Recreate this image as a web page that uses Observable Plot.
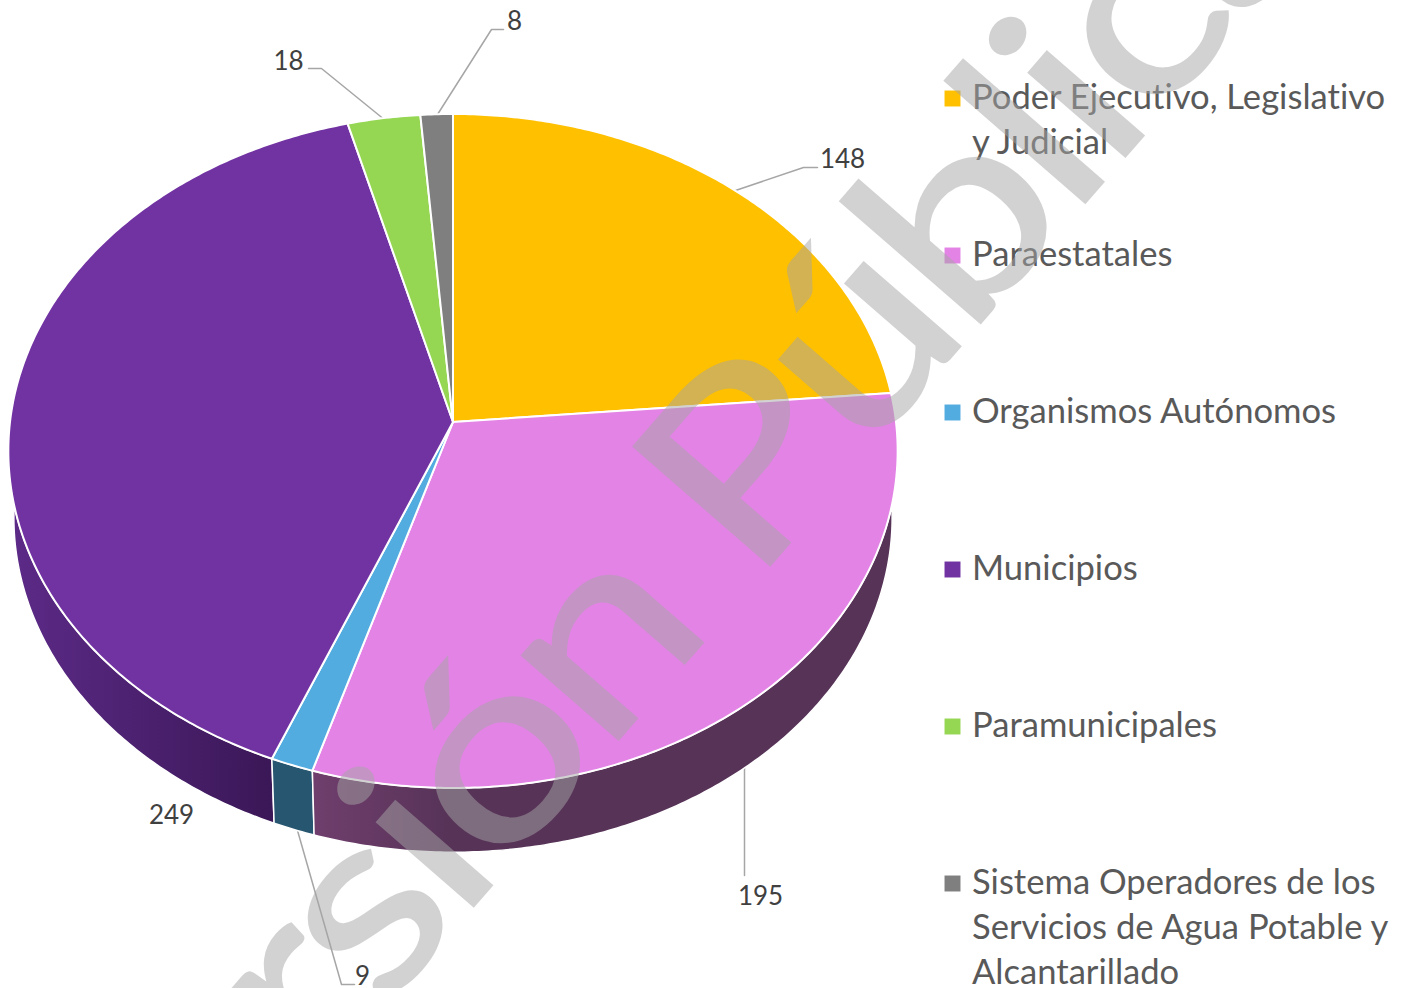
<!DOCTYPE html>
<html lang="es">
<head>
<meta charset="utf-8">
<script src="https://cdn.jsdelivr.net/npm/d3@7"></script>
<script src="https://cdn.jsdelivr.net/npm/@observablehq/plot@0.6"></script>
<style>
html,body{margin:0;padding:0;background:#fff;overflow:hidden}
svg text{font-variant-ligatures:none}
.wm text{letter-spacing:-9px}
</style>
</head>
<body>
<div id="chart"></div>
<script>
const categories = ["Poder Ejecutivo, Legislativo\ny Judicial","Paraestatales","Organismos Autónomos","Municipios","Paramunicipales","Sistema Operadores de los\nServicios de Agua Potable y\nAlcantarillado"];
const values = [148,195,9,249,18,8];
const colors = ["#FFC000","#E383E5","#52ACE0","#7132A2","#95D653","#7F7F7F"];
const legendY = [98,255,412,569,726,883];
const labelX = [842,760,362,171,288,514];
const labelY = [159,896,976,815,61,21];
const leaderX = [[735,803,817],[744,744],[297,341,354],[],[385,321,308],[437,491,503]];
const leaderY = [[190,167,167],[765,875],[830,984,984],[],[120,68,68],[114,29,29]];
const watermark = "Versión Pública";

const total = d3.sum(values);
let acc = 0;
const slices = values.map((v,i)=>{const a0=acc/total*2*Math.PI; acc+=v; return {name:categories[i],a0,a1:acc/total*2*Math.PI,i};});
const k = 0.086;
const top3d = {cx:453,cy:422,s:443,t:334.5};
const bot3d = {cx:453,cy:489,s:437.5,t:332};
const project = (f,a)=>{const X=Math.sin(a),Y=Math.cos(a),d=1+k*Y;return [f.cx+f.s*X/d,f.cy-f.t*Y/d];};
const arc = s=>{const n=Math.max(2,Math.ceil((s.a1-s.a0)/0.01));return d3.range(n+1).map(j=>s.a0+(s.a1-s.a0)*j/n);};
const sector = slices.flatMap(s=>arc(s).map(a=>{const [x,y]=project(top3d,a);return {name:s.name,x1:top3d.cx,y1:top3d.cy,x2:x,y2:y};}));
const side = s=>arc(s).map(a=>{const p=project(top3d,a),q=project(bot3d,a);return {x1:p[0],y1:p[1],x2:q[0],y2:q[1]};});
const sideFill = ["#000","url(#gPink)","#275670","url(#gPurple)"];

const defs = ()=>{
  const d=d3.create("svg:defs");
  const g=(id,x1,x2,c1,c2)=>{const l=d.append("linearGradient").attr("id",id).attr("gradientUnits","userSpaceOnUse").attr("x1",x1).attr("x2",x2).attr("y1",0).attr("y2",0);
    l.append("stop").attr("offset",0).attr("stop-color",c1);l.append("stop").attr("offset",1).attr("stop-color",c2);};
  g("gPurple",15,276,"#5c2a87","#3a1756");
  g("gPink",316,450,"#6f3e6c","#573358");
  return d.node();
};

const labels = values.map((v,i)=>({v:String(v),x:labelX[i],y:labelY[i]}));
const leaders = leaderX.flatMap((xs,i)=>xs.map((x,j)=>({i,x,y:leaderY[i][j]})));
const legend = categories.map((c,i)=>({c,y:legendY[i]}));

const plot = Plot.plot({
  width:1406,height:988,margin:0,
  style:{background:"#fff",overflow:"hidden"},
  x:{domain:[0,1406],range:[0,1406],axis:null},
  y:{domain:[0,988],range:[0,988],axis:null},
  color:{domain:categories,range:colors},
  marks:[
    defs,
    Plot.line(leaders,{x:"x",y:"y",z:"i",stroke:"#A6A6A6",strokeWidth:1.5}),
    ...[3,2,1].map(i=>Plot.area(side(slices[i]),{x1:"x1",y1:"y1",x2:"x2",y2:"y2",fill:sideFill[i],stroke:"#fff",strokeWidth:1.5})),
    Plot.area(sector,{x1:"x1",y1:"y1",x2:"x2",y2:"y2",z:"name",fill:"name",stroke:"#fff",strokeWidth:2}),
    Plot.text(labels,{x:"x",y:"y",text:"v",fill:"#404040",fontSize:26,fontFamily:"Lato"}),
    Plot.dot(legend,{x:()=>952,y:"y",symbol:"square",r:9,fill:"c",stroke:"none"}),
    Plot.text(legend,{x:()=>971.5,y:"y",text:"c",textAnchor:"start",lineAnchor:"top",dy:-21,lineHeight:1.3,fill:"#595959",fontSize:34.6,fontFamily:"Lato"}),
    Plot.text([watermark],{x:()=>105,y:()=>1329,text:d=>d,rotate:-49,textAnchor:"start",lineAnchor:"bottom",fill:"#A6A6A6",stroke:"#A6A6A6",strokeWidth:2.5,strokeLinejoin:"miter",opacity:0.5,fontSize:252,fontFamily:"Lato",className:"wm"})
  ]
});
d3.select(plot).selectAll(".wm text").attr("transform",function(){return this.getAttribute("transform")+" scale(1.2,1)";});
document.getElementById("chart").append(plot);
</script>
</body>
</html>
